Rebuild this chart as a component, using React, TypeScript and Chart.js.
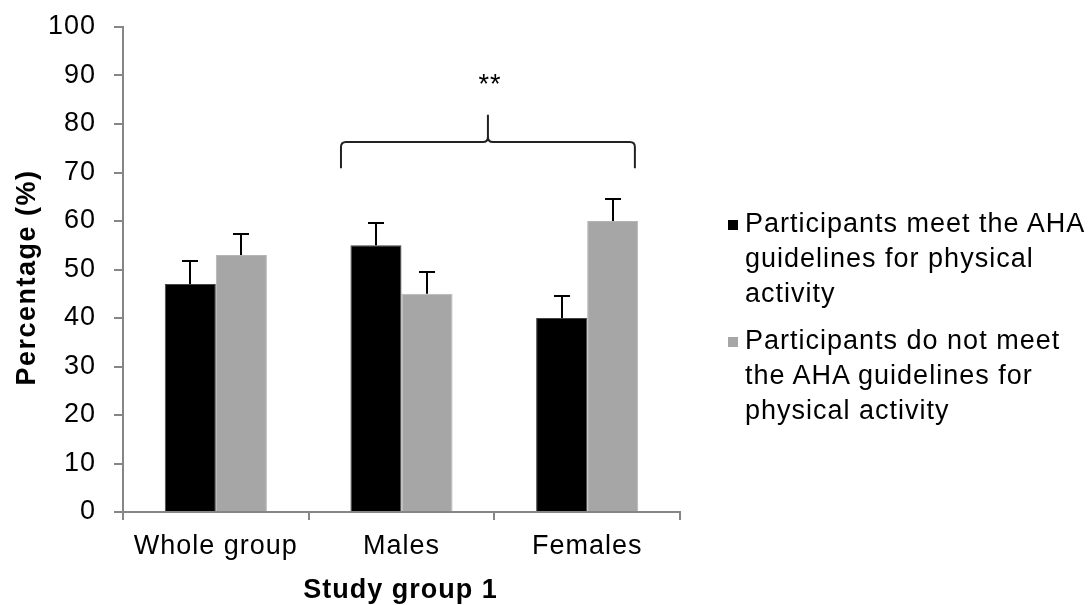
import React, { useEffect, useRef } from "react";
import { Chart, registerables } from "chart.js";

Chart.register(...registerables);

const categories = ["Whole group", "Males", "Females"];
const seriesNames = [
  "Participants meet the AHA guidelines for physical activity",
  "Participants do not meet the AHA guidelines for physical activity",
];
const meetValues = [47, 55, 40];
const meetErrors = [4.7, 4.5, 4.5];
const notMeetValues = [53, 45, 60];
const notMeetErrors = [4.3, 4.5, 4.5];
const yTicks = [0, 10, 20, 30, 40, 50, 60, 70, 80, 90, 100];
const significance = "**";
const xTitle = "Study group 1";
const yTitle = "Percentage (%)";

const legendLines = [
  ["Participants meet the AHA", "guidelines for physical", "activity"],
  ["Participants do not meet", "the AHA guidelines for", "physical activity"],
];

const FONT = "'Liberation Sans', Arial, sans-serif";
const AXIS_GRAY = "#868686";

const spacingPlugin = {
  id: "spacing",
  beforeUpdate(chart: any) {
    chart.ctx.letterSpacing = "1px";
  },
  beforeDraw(chart: any) {
    chart.ctx.letterSpacing = "1px";
  },
};

const errorBarPlugin = {
  id: "errorBars",
  afterDatasetsDraw(chart: any) {
    const ctx = chart.ctx;
    const yScale = chart.scales.y;
    ctx.save();
    ctx.strokeStyle = "#000";
    ctx.lineWidth = 2;
    chart.data.datasets.forEach((ds: any, di: number) => {
      const meta = chart.getDatasetMeta(di);
      meta.data.forEach((bar: any, i: number) => {
        const v = ds.data[i];
        const e = ds.errors[i];
        const yTop = Math.round(yScale.getPixelForValue(v + e));
        const yBase = yScale.getPixelForValue(v);
        const x = Math.round(bar.x);
        ctx.beginPath();
        ctx.moveTo(x, yBase);
        ctx.lineTo(x, yTop);
        ctx.moveTo(x - 8, yTop);
        ctx.lineTo(x + 8, yTop);
        ctx.stroke();
      });
    });
    ctx.restore();
  },
};

const bracketPlugin = {
  id: "bracket",
  afterDatasetsDraw(chart: any) {
    const ctx = chart.ctx;
    const xs = chart.scales.x;
    const ys = chart.scales.y;
    const c1 = xs.getPixelForValue(1);
    const c2 = xs.getPixelForValue(2);
    const w = c2 - c1;
    const left = c1 - 0.326 * w;
    const right = c2 + 0.257 * w;
    const mid = (left + right) / 2;
    const yLine = ys.getPixelForValue(76.3);
    const yEnd = ys.getPixelForValue(70.9);
    const yPeak = ys.getPixelForValue(81.9);
    const r = 5;
    ctx.save();
    ctx.strokeStyle = "#222";
    ctx.lineWidth = 2;
    ctx.beginPath();
    ctx.moveTo(left, yEnd);
    ctx.lineTo(left, yLine + r);
    ctx.quadraticCurveTo(left, yLine, left + r, yLine);
    ctx.lineTo(mid - r, yLine);
    ctx.quadraticCurveTo(mid, yLine, mid, yLine - r);
    ctx.lineTo(mid, yPeak);
    ctx.moveTo(mid, yLine - r);
    ctx.quadraticCurveTo(mid, yLine, mid + r, yLine);
    ctx.lineTo(right - r, yLine);
    ctx.quadraticCurveTo(right, yLine, right, yLine + r);
    ctx.lineTo(right, yEnd);
    ctx.stroke();
    ctx.fillStyle = "#000";
    ctx.letterSpacing = "1px";
    ctx.font = `27px ${FONT}`;
    ctx.textAlign = "center";
    ctx.textBaseline = "alphabetic";
    ctx.fillText(significance, mid + 2, ys.getPixelForValue(86.4));
    ctx.restore();
  },
};

const titlesPlugin = {
  id: "titles",
  afterDraw(chart: any) {
    const ctx = chart.ctx;
    const xs = chart.scales.x;
    const ys = chart.scales.y;
    ctx.save();
    ctx.fillStyle = "#000";
    ctx.font = `bold 27px ${FONT}`;
    ctx.textAlign = "center";
    ctx.textBaseline = "alphabetic";
    ctx.letterSpacing = "1px";
    ctx.fillText(xTitle, (xs.left + xs.right) / 2 - 1, 598);
    ctx.letterSpacing = "1.5px";
    ctx.translate(35, (ys.top + ys.bottom) / 2 + 8);
    ctx.rotate(-Math.PI / 2);
    ctx.fillText(yTitle, 0, 0);
    ctx.restore();
  },
};

export default function App() {
  const ref = useRef<HTMLCanvasElement>(null);
  useEffect(() => {
    if (!ref.current) return;
    const chart = new Chart(ref.current, {
      type: "bar",
      data: {
        labels: categories,
        datasets: [
          {
            label: seriesNames[0],
            data: meetValues,
            errors: meetErrors,
            backgroundColor: "#000000",
            borderColor: "#444",
            borderWidth: 1,
            barPercentage: 1,
            categoryPercentage: 0.55,
          } as any,
          {
            label: seriesNames[1],
            data: notMeetValues,
            errors: notMeetErrors,
            backgroundColor: "#a6a6a6",
            borderColor: "#b5b5b5",
            borderWidth: 1,
            barPercentage: 1,
            categoryPercentage: 0.55,
          } as any,
        ],
      },
      options: {
        animation: false,
        responsive: false,
        maintainAspectRatio: false,
        layout: { padding: { left: 0, right: 411, top: 27, bottom: 0 } },
        plugins: {
          legend: { display: false },
          tooltip: { enabled: false },
        },
        scales: {
          x: {
            afterFit: (axis: any) => {
              axis.height = 93;
              axis.paddingLeft = 0;
              axis.paddingRight = 0;
            },
            grid: {
              display: true,
              drawOnChartArea: false,
              drawTicks: true,
              tickLength: 8,
              color: AXIS_GRAY,
              lineWidth: 2,
              offset: true,
            },
            border: { color: AXIS_GRAY, width: 2 },
            ticks: {
              color: "#000",
              font: { family: FONT, size: 27 },
              padding: 10,
              maxRotation: 0,
            },
          },
          y: {
            min: 0,
            max: 100,
            afterFit: (axis: any) => {
              axis.width = 123;
              axis.paddingTop = 0;
              axis.paddingBottom = 0;
            },
            afterBuildTicks: (axis: any) => {
              axis.ticks = yTicks.map((v) => ({ value: v }));
            },
            grid: {
              display: true,
              drawOnChartArea: false,
              drawTicks: true,
              tickLength: 9,
              color: AXIS_GRAY,
              lineWidth: 2,
            },
            border: { color: AXIS_GRAY, width: 2 },
            ticks: {
              color: "#000",
              font: { family: FONT, size: 27 },
              padding: 18,
            },
          },
        },
      },
      plugins: [spacingPlugin, errorBarPlugin, bracketPlugin, titlesPlugin],
    });
    return () => chart.destroy();
  }, []);

  return (
    <div style={{ position: "absolute", left: 0, top: 0, width: 1091, height: 605, background: "#fff", overflow: "hidden" }}>
      <canvas ref={ref} width={1091} height={605} style={{ position: "absolute", left: 0, top: 0 }} />
      <div
        style={{
          position: "absolute",
          left: 728,
          top: 206,
          fontFamily: FONT,
          fontSize: 27,
          lineHeight: "35px",
          letterSpacing: "1px",
          color: "#000",
        }}
      >
        {legendLines.map((lines, i) => (
          <div key={i} style={{ position: "relative", paddingLeft: 17, marginBottom: 12 }}>
            <span
              style={{
                position: "absolute",
                left: 0,
                top: 14,
                width: 10,
                height: 10,
                background: i === 0 ? "#000" : "#a6a6a6",
              }}
            />
            {lines.map((l, j) => (
              <div key={j} style={{ whiteSpace: "nowrap" }}>{l}</div>
            ))}
          </div>
        ))}
      </div>
    </div>
  );
}
